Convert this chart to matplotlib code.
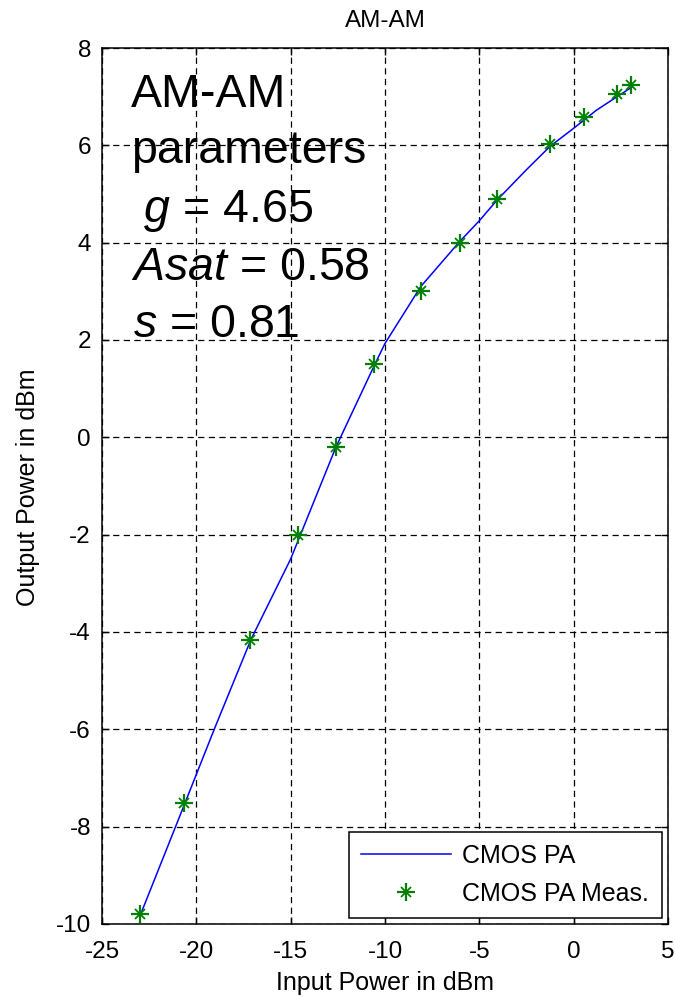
import matplotlib
matplotlib.use("Agg")
import matplotlib.pyplot as plt
from matplotlib.legend_handler import HandlerTuple

plt.rcParams['font.family'] = ['Liberation Sans', 'DejaVu Sans']
plt.rcParams['mathtext.fontset'] = 'custom'
plt.rcParams['mathtext.it'] = 'Liberation Sans:italic'
plt.rcParams['mathtext.rm'] = 'Liberation Sans'
plt.rcParams['axes.unicode_minus'] = False

# ---- data ----
meas_x = [-23.0, -20.65, -17.13, -14.6, -12.6, -10.6, -8.1, -6.05, -4.05, -1.25, 0.55, 2.3, 3.05]
meas_y = [-9.8, -7.52, -4.17, -2.0, -0.19, 1.5, 3.0, 4.0, 4.9, 6.02, 6.59, 7.05, 7.23]

model_x = [-22.9, -21.1, -19.0, -17.1, -15.0, -12.6, -10.6, -10.0, -8.1, -6.05, -5.0, -4.05, -2.5, -1.25, 0.0, 1.2, 2.3, 3.1]
model_y = [-9.75, -8.0, -5.95, -4.15, -2.5, -0.2, 1.45, 1.93, 3.1, 4.02, 4.45, 4.88, 5.5, 5.98, 6.35, 6.72, 7.0, 7.2]

xticks = [-25, -20, -15, -10, -5, 0, 5]
yticks = [-10, -8, -6, -4, -2, 0, 2, 4, 6, 8]

title = "AM-AM"
xlabel = "Input Power in dBm"
ylabel = "Output Power in dBm"
legend_labels = ["CMOS PA", "CMOS PA Meas."]
annot_lines = ["AM-AM", "parameters", r" $g$ = 4.65", r"$Asat$ = 0.58", r"$s$ = 0.81"]

W, H = 675, 997
fig = plt.figure(figsize=(W / 100, H / 100), dpi=100)
L, R, T, B = 102, 668, 48, 924
ax = fig.add_axes([L / W, 1 - B / H, (R - L) / W, (B - T) / H])

green = '#008000'
line_model, = ax.plot(model_x, model_y, color='#0000ff', lw=1.1, zorder=3)
m1, = ax.plot(meas_x, meas_y, linestyle='none', marker='+', markersize=13,
              markeredgewidth=1.6, color=green, zorder=4)
m2, = ax.plot(meas_x, meas_y, linestyle='none', marker='x', markersize=6.5,
              markeredgewidth=1.3, color=green, zorder=4)

ax.set_xlim(-25, 5)
ax.set_ylim(-10, 8)
ax.set_xticks(xticks)
ax.set_yticks(yticks)
ax.grid(True, color='k', linestyle=(0, (5, 3.5)), linewidth=0.9)
ax.set_axisbelow(True)
for s in ax.spines.values():
    s.set_linewidth(1.1)
    s.set_color('k')
ax.tick_params(direction='in', top=True, right=True, length=5, width=1,
               labelsize=17.5, colors='k')
ax.tick_params(axis='x', pad=12)
ax.tick_params(axis='y', pad=8)

fig.text(385 / W, 1 - 27 / H, title, ha='center', va='baseline', fontsize=17.5)
fig.text(385 / W, 1 - 990 / H, xlabel, ha='center', va='baseline', fontsize=18)
fig.text(28 / W, 1 - 487 / H, ylabel, ha='center', va='center', rotation=90, fontsize=18)

# annotation block
bases = [106.7, 163, 221.7, 280, 337]
xs = [131, 131, 131, 131, 133]
for txt, yb, xx in zip(annot_lines, bases, xs):
    fig.text(xx / W, 1 - yb / H, txt, ha='left', va='baseline', fontsize=33.5)

leg = ax.legend([line_model, (m1, m2)], legend_labels,
                handler_map={tuple: HandlerTuple(ndivide=1)},
                loc='lower right', bbox_to_anchor=(0.989, 0.0065), borderaxespad=0,
                fontsize=18, handlelength=3.6, handletextpad=0.45, borderpad=0.5,
                labelspacing=0.55, numpoints=1, fancybox=False, framealpha=1,
                edgecolor='k')
leg.get_frame().set_linewidth(1.1)

fig.savefig('out.png', dpi=100)
